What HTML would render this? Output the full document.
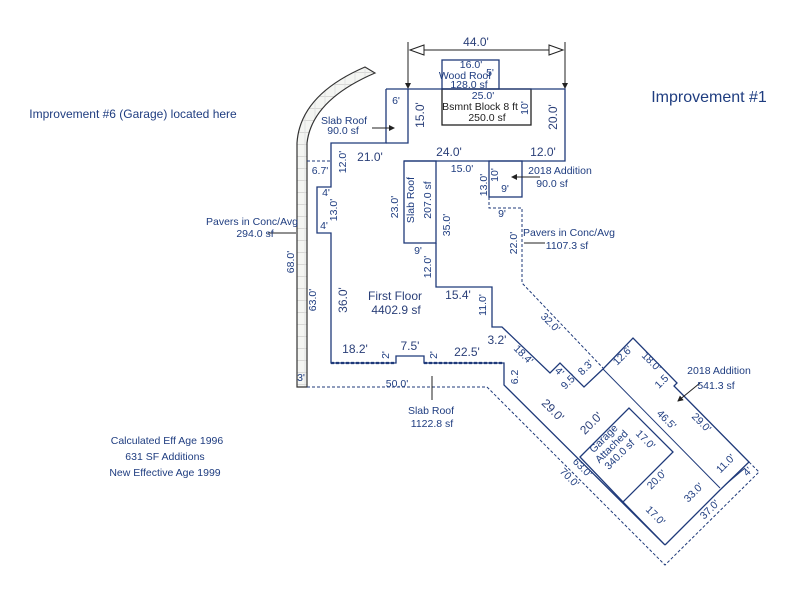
<!DOCTYPE html>
<html><head><meta charset="utf-8"><style>
html,body{margin:0;padding:0;background:#fff;}
svg{display:block}
text{font-family:"Liberation Sans",Arial,sans-serif;fill:#1f3d80;font-size:10.5px;text-anchor:middle}
.d{fill:#2a3f78;font-size:12px}
.k{fill:#222;}
</style></head><body>
<svg width="800" height="600" viewBox="0 0 800 600" xmlns="http://www.w3.org/2000/svg">
<defs>
<marker id="ar" markerWidth="6" markerHeight="6" refX="5" refY="3" orient="auto"><path d="M0,0 L6,3 L0,6 z" fill="#222"/></marker>
<pattern id="hp" width="10" height="12" patternUnits="userSpaceOnUse"><rect width="10" height="12" fill="#f4f5f2"/><line x1="0" y1="0" x2="10" y2="0" stroke="#bbb" stroke-width="1"/><line x1="5" y1="0" x2="5" y2="12" stroke="#ddd" stroke-width="0.8"/></pattern>
</defs>
<!-- pavers strip -->
<path d="M297,387 L297,143 Q300,95 365,67 L375,73 Q312,100 307,143 L307,387 Z" fill="url(#hp)" stroke="#333" stroke-width="1.2"/>
<g fill="none" stroke="#1f3a7a" stroke-width="1.3">
<!-- dimension 44 -->
<g stroke="#222" stroke-width="1">
<line x1="408" y1="42" x2="408" y2="88" marker-end="url(#ar)"/>
<line x1="565" y1="42" x2="565" y2="88" marker-end="url(#ar)"/>
<line x1="412" y1="50" x2="561" y2="50"/>
<path d="M410,50 L424,45 L424,55 z M563,50 L549,45 L549,55 z" fill="#fff"/>
</g>
<rect x="442" y="60" width="57" height="29"/>
<rect x="442" y="89" width="89" height="36" stroke="#222"/>
<path d="M386,89 L565,89 L565,161 L404,161"/>
<path d="M386,89 L386,143 L331,143 L331,187 L317,187 L317,233 L331,233 L331,363 L396,363 L396,356 L424,356 L424,363 L504,363 L504,385 L665,545 L623,502"/>
<path d="M408,89 L408,143 L386,143"/>
<rect x="404" y="161" width="32" height="82"/>
<path d="M436,243 L436,287 L492,287 L492,327 L502,327 L550,373 L560,363 L584,387 L603,369 L633,338 L677,383 L674,386 L680,392 L749,462 L720,490 L665,545"/>
<rect x="489" y="161" width="33" height="36"/>
<path d="M580,457 L629,408 L673,452 L623,502 Z"/>
<line x1="603" y1="369" x2="720" y2="488" stroke-width="1"/>
<line x1="725" y1="485" x2="745" y2="468" stroke-width="1"/>
<g stroke-dasharray="3,2" stroke-width="1">
<line x1="436" y1="161" x2="436" y2="243"/>
<path d="M489,197 L489,208 L522,208 L522,283 L603,368"/>
<line x1="307" y1="161" x2="331" y2="161"/>
<path d="M307,387 L487,387 L665,565 L759,472 L749,462"/>
<path d="M331,363 L396,363 M424,363 L504,363" stroke-width="2.2"/>
</g>
</g>
<g stroke="#222" stroke-width="1">
<line x1="372" y1="128" x2="394" y2="128" marker-end="url(#ar)"/>
<line x1="540" y1="177" x2="512" y2="177" marker-end="url(#ar)"/>
<line x1="524" y1="243" x2="545" y2="243"/>
<line x1="268" y1="233" x2="296" y2="233"/>
<line x1="432" y1="376" x2="432" y2="400"/>
<line x1="700" y1="383" x2="678" y2="401" marker-end="url(#ar)"/>
</g>
<text x="476" y="46" class="d">44.0'</text>
<text x="471" y="68">16.0'</text>
<text x="465" y="79">Wood Roof</text>
<text x="469" y="88">128.0 sf</text>
<text x="490" y="76" font-size="8">5'</text>
<text x="483" y="99">25.0'</text>
<text x="480" y="110" class="k">Bsmnt Block 8 ft</text>
<text x="487" y="121" class="k">250.0 sf</text>
<text transform="translate(528,108) rotate(-90)">10'</text>
<text transform="translate(557,117) rotate(-90)" class="d">20.0'</text>
<text x="396" y="104">6'</text>
<text transform="translate(424,115) rotate(-90)" class="d">15.0'</text>
<text x="344" y="124">Slab Roof</text>
<text x="343" y="134">90.0 sf</text>
<text x="370" y="161" class="d">21.0'</text>
<text x="449" y="156" class="d">24.0'</text>
<text x="543" y="156" class="d">12.0'</text>
<text x="462" y="172">15.0'</text>
<text transform="translate(498,175) rotate(-90)">10'</text>
<text x="505" y="192">9'</text>
<text transform="translate(487,185) rotate(-90)">13.0'</text>
<text x="560" y="174">2018 Addition</text>
<text x="552" y="187">90.0 sf</text>
<text x="320" y="174">6.7'</text>
<text transform="translate(346,162) rotate(-90)">12.0'</text>
<text x="326" y="196">4'</text>
<text transform="translate(337,210) rotate(-90)">13.0'</text>
<text x="324" y="229">4'</text>
<text transform="translate(398,207) rotate(-90)">23.0'</text>
<text transform="translate(414,200) rotate(-90)">Slab Roof</text>
<text transform="translate(431,200) rotate(-90)">207.0 sf</text>
<text transform="translate(450,225) rotate(-90)">35.0'</text>
<text x="502" y="217">9'</text>
<text transform="translate(517,243) rotate(-90)">22.0'</text>
<text x="569" y="236">Pavers in Conc/Avg</text>
<text x="567" y="249">1107.3 sf</text>
<text x="418" y="254">9'</text>
<text transform="translate(431,267) rotate(-90)">12.0'</text>
<text x="252" y="225">Pavers in Conc/Avg</text>
<text x="255" y="237">294.0 sf</text>
<text transform="translate(294,262) rotate(-90)">68.0'</text>
<text transform="translate(316,300) rotate(-90)">63.0'</text>
<text transform="translate(347,300) rotate(-90)" class="d">36.0'</text>
<text x="395" y="300" class="d">First Floor</text>
<text x="396" y="314" class="d">4402.9 sf</text>
<text x="458" y="299" class="d">15.4'</text>
<text transform="translate(486,305) rotate(-90)">11.0'</text>
<text transform="translate(548,325) rotate(45)">32.0'</text>
<text x="497" y="344" class="d">3.2'</text>
<text transform="translate(521,357) rotate(45)">18.4'</text>
<text x="355" y="353" class="d">18.2'</text>
<text transform="translate(389,355) rotate(-90)">2'</text>
<text x="410" y="350" class="d">7.5'</text>
<text transform="translate(437,355) rotate(-90)">2'</text>
<text x="467" y="356" class="d">22.5'</text>
<text transform="translate(518,377) rotate(-90)">6.2</text>
<text x="301" y="381">3'</text>
<text x="397" y="387">50.0'</text>
<text x="431" y="414">Slab Roof</text>
<text x="432" y="427">1122.8 sf</text>
<text transform="translate(557,374) rotate(45)">4'</text>
<text transform="translate(571,384) rotate(-45)">9.5'</text>
<text transform="translate(588,370) rotate(-45)">8.3'</text>
<text transform="translate(625,358) rotate(-45)">12.6'</text>
<text transform="translate(649,364) rotate(45)">18.0'</text>
<text transform="translate(664,384) rotate(-45)">1.5</text>
<text x="719" y="374">2018 Addition</text>
<text x="716" y="389">541.3 sf</text>
<text transform="translate(550,413) rotate(45)" class="d">29.0'</text>
<text transform="translate(594,426) rotate(-45)" class="d">20.0'</text>
<text transform="translate(664,422) rotate(45)">46.5'</text>
<text transform="translate(699,425) rotate(45)">29.0'</text>
<text transform="translate(606,441) rotate(-45)">Garage</text>
<text transform="translate(614,449) rotate(-45)">Attached</text>
<text transform="translate(622,457) rotate(-45)">340.0 sf</text>
<text transform="translate(643,442) rotate(45)">17.0'</text>
<text transform="translate(580,470) rotate(45)">63.0'</text>
<text transform="translate(567,480) rotate(45)">70.0'</text>
<text transform="translate(659,482) rotate(-45)">20.0'</text>
<text transform="translate(728,466) rotate(-45)">11.0'</text>
<text transform="translate(750,474) rotate(-45)">4'</text>
<text transform="translate(653,518) rotate(45)">17.0'</text>
<text transform="translate(696,495) rotate(-45)">33.0'</text>
<text transform="translate(712,512) rotate(-45)">37.0'</text>
<text x="709" y="102" style="font-size:16px">Improvement #1</text>
<text x="133" y="118" style="font-size:12px">Improvement #6 (Garage) located here</text>
<text x="167" y="444">Calculated Eff Age 1996</text>
<text x="165" y="460">631 SF Additions</text>
<text x="165" y="476">New Effective Age 1999</text>
</svg>
</body></html>
